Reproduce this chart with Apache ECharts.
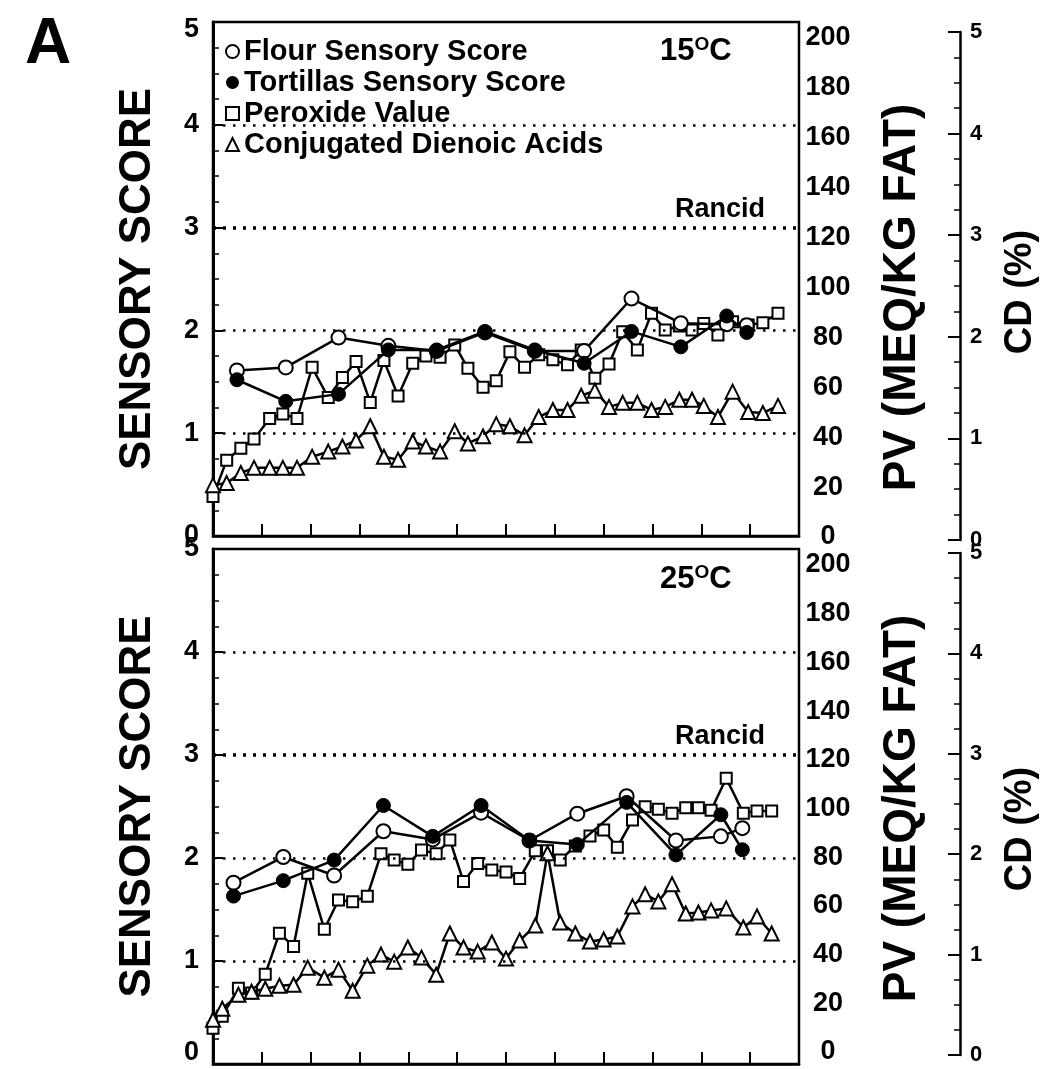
<!DOCTYPE html>
<html><head><meta charset="utf-8">
<script src="https://cdn.jsdelivr.net/npm/echarts@6/dist/echarts.min.js"></script>
<style>html,body{margin:0;padding:0;background:#fff}#c{width:1055px;height:1069px}</style>
</head><body><div id="c"></div>
<script>
// ---------- data ----------
const panelLetter = 'A';
const panelTemps = ['15', '25'];
const seriesNames = ['Flour Sensory Score', 'Tortillas Sensory Score', 'Peroxide Value', 'Conjugated Dienoic Acids'];
const rancidLabel = 'Rancid';
const rancidLevel = 3;
const sensoryTicks = [0, 1, 2, 3, 4, 5];
const pvTicks = [0, 20, 40, 60, 80, 100, 120, 140, 160, 180, 200];
const cdTicks = [0, 1, 2, 3, 4, 5];
const timeTicks = [0, 1, 2, 3, 4, 5, 6, 7, 8, 9, 10, 11, 12];

// 15 C panel
const sensX15 = [0.49, 1.49, 2.57, 3.59, 4.58, 5.57, 6.59, 7.60, 8.57, 9.58, 10.52, 10.93];
const flour15 = [1.61, 1.64, 1.93, 1.85, 1.80, 1.98, 1.80, 1.80, 2.31, 2.07, 2.06, 2.05];
const tort15  = [1.52, 1.31, 1.38, 1.81, 1.81, 1.99, 1.81, 1.68, 1.99, 1.84, 2.14, 1.98];
const labX15 = [0.00, 0.28, 0.57, 0.84, 1.16, 1.43, 1.72, 2.03, 2.36, 2.65, 2.93, 3.22, 3.50, 3.79,
  4.09, 4.36, 4.65, 4.95, 5.22, 5.53, 5.80, 6.08, 6.38, 6.67, 6.96, 7.26, 7.54, 7.82, 8.11, 8.39,
  8.69, 8.98, 9.26, 9.55, 9.81, 10.05, 10.34, 10.64, 10.96, 11.26, 11.57];
const pv15 = [16.2, 30.8, 35.6, 39.3, 47.5, 49.3, 47.5, 68.0, 55.9, 63.9, 70.3, 53.9, 70.7, 56.5,
  69.6, 72.5, 72.0, 77.0, 67.6, 60.0, 62.6, 74.2, 68.0, 73.0, 71.0, 69.0, 75.0, 63.6, 69.3, 82.3,
  75.0, 89.7, 83.0, 84.6, 83.0, 85.6, 81.0, 86.3, 85.0, 85.9, 89.7];
const cd15 = [0.54, 0.56, 0.66, 0.71, 0.71, 0.71, 0.71, 0.82, 0.87, 0.92, 0.98, 1.12, 0.82, 0.79,
  0.97, 0.92, 0.87, 1.07, 0.95, 1.02, 1.14, 1.12, 1.03, 1.21, 1.28, 1.28, 1.42, 1.47, 1.31, 1.35,
  1.35, 1.28, 1.31, 1.38, 1.38, 1.32, 1.21, 1.46, 1.26, 1.25, 1.32];

// 25 C panel
const sensX25 = [0.42, 1.44, 2.48, 3.49, 4.50, 5.49, 6.48, 7.46, 8.47, 9.48, 10.40, 10.84];
const flour25 = [1.76, 2.01, 1.83, 2.26, 2.18, 2.44, 2.17, 2.43, 2.60, 2.17, 2.21, 2.29];
const tort25  = [1.63, 1.78, 1.98, 2.51, 2.21, 2.51, 2.17, 2.13, 2.54, 2.03, 2.42, 2.08];
const labX25 = [0.00, 0.19, 0.52, 0.79, 1.07, 1.36, 1.65, 1.94, 2.28, 2.57, 2.86, 3.16, 3.44, 3.71,
  3.99, 4.27, 4.57, 4.85, 5.13, 5.42, 5.71, 6.00, 6.28, 6.60, 6.85, 7.11, 7.42, 7.72, 8.00, 8.28,
  8.59, 8.85, 9.12, 9.40, 9.68, 9.94, 10.20, 10.51, 10.86, 11.14, 11.44];
const pv25 = [9.8, 14.7, 26.2, 24.2, 31.9, 48.8, 43.3, 73.4, 50.4, 62.4, 61.7, 64.0, 81.4, 78.8,
  77.1, 83.0, 81.4, 87.1, 70.0, 77.4, 74.7, 73.9, 71.3, 82.6, 82.6, 78.8, 84.6, 88.7, 91.2, 84.1,
  95.3, 100.7, 99.7, 98.1, 100.3, 100.3, 99.3, 112.4, 98.1, 99.0, 99.0];
const cd25 = [0.35, 0.46, 0.60, 0.63, 0.66, 0.69, 0.70, 0.87, 0.77, 0.85, 0.64, 0.89, 1.00, 0.93,
  1.07, 0.97, 0.80, 1.21, 1.07, 1.03, 1.12, 0.96, 1.14, 1.29, 2.01, 1.32, 1.21, 1.13, 1.15, 1.18,
  1.48, 1.60, 1.53, 1.70, 1.41, 1.42, 1.44, 1.46, 1.27, 1.38, 1.21];

// ---------- chart ----------
const FONT = "'Liberation Sans', Arial, Helvetica, sans-serif";
const K = '#000';
const pair = (xs, ys) => xs.map((x, i) => [x, ys[i]]);
const tickStep = a => a[1] - a[0];
const panels = [
  {temp: panelTemps[0], sx: sensX15, flour: flour15, tort: tort15, lx: labX15, pv: pv15, cd: cd15,
   main: {top: 22, height: 514}, pvG: {top: 38, height: 499}, cdG: {top: 32, height: 508},
   pvPad: [0, 20, 0, 0], cdPad: [0, 12, 0, 0], tempTop: 30},
  {temp: panelTemps[1], sx: sensX25, flour: flour25, tort: tort25, lx: labX25, pv: pv25, cd: cd25,
   main: {top: 549, height: 515}, pvG: {top: 565, height: 487}, cdG: {top: 553, height: 502},
   pvPad: [0, 0, 0, 0], cdPad: [0, 50, 0, 0], tempTop: 558}
];

const grid = [], xAxis = [], yAxis = [], series = [], title = [];
title.push({text: panelLetter, left: 20, top: 8, textStyle: {fontSize: 64, fontWeight: 'bold', fontFamily: FONT, color: K}});

function labelShift(shiftVal, pad, size) {
  return {
    formatter: v => (v === shiftVal) ? '{z|' + v + '}' : String(v),
    rich: {z: {padding: pad, fontSize: size, fontWeight: 'bold', fontFamily: FONT, color: K}}
  };
}
// helper x axes for the independent right-hand scales: present but drawn invisibly
const helperX = g => ({gridIndex: g, type: 'value', min: timeTicks[0],
  max: timeTicks[timeTicks.length - 1], interval: tickStep(timeTicks),
  axisLine: {show: false, onZero: false}, axisTick: {show: false}, axisLabel: {show: false}, splitLine: {show: false}});
const nameStyle = (size, pad) => ({fontSize: size, fontWeight: 'bold', fontFamily: FONT, color: K, padding: pad});

panels.forEach((p, i) => {
  const bottom = i === 1;
  const gMain = grid.length;
  grid.push({left: 213, width: 586, top: p.main.top, height: p.main.height,
    show: true, borderColor: K, borderWidth: 2.5, backgroundColor: 'transparent'});
  const gPv = grid.length;
  grid.push({left: 213, width: 586, top: p.pvG.top, height: p.pvG.height});
  const gCd = grid.length;
  grid.push({left: 213, width: 586, top: p.cdG.top, height: p.cdG.height});

  xAxis.push({gridIndex: gMain, type: 'value', min: timeTicks[0], max: timeTicks[timeTicks.length - 1],
    interval: tickStep(timeTicks),
    axisLine: {show: true, onZero: false, lineStyle: {color: K, width: 2.5}},
    axisTick: {show: true, inside: true, length: 12, lineStyle: {color: K, width: 2}},
    axisLabel: {show: false}, splitLine: {show: false}});
  xAxis.push(helperX(gPv));
  xAxis.push(helperX(gCd));

  const ls = bottom ? labelShift(0, [0, 0, 22, 0], 27) : labelShift(5, [16, 0, 0, 0], 27);
  const ySens = yAxis.length;
  yAxis.push({gridIndex: gMain, type: 'value', position: 'left',
    min: sensoryTicks[0], max: sensoryTicks[sensoryTicks.length - 1], interval: tickStep(sensoryTicks),
    axisLine: {show: true, onZero: false, lineStyle: {color: K, width: 3}},
    axisTick: {show: true, inside: true, length: 10, lineStyle: {color: K, width: 2}},
    minorTick: {show: true, splitNumber: 4, length: 6, lineStyle: {color: K, width: 1.5}},
    axisLabel: {fontSize: 27, fontWeight: 'bold', fontFamily: FONT, color: K, margin: 14, formatter: ls.formatter, rich: ls.rich},
    splitLine: {show: false},
    name: 'SENSORY SCORE', nameLocation: 'middle', nameGap: 53,
    nameTextStyle: nameStyle(44, [0, 0, 0, 0])});
  const yPv = yAxis.length;
  yAxis.push({gridIndex: gPv, type: 'value', position: 'right',
    min: pvTicks[0], max: pvTicks[pvTicks.length - 1], interval: tickStep(pvTicks),
    axisLine: {show: false, onZero: false}, axisTick: {show: false}, splitLine: {show: false},
    axisLabel: {fontSize: 27, fontWeight: 'bold', fontFamily: FONT, color: K, margin: 29, align: 'center'},
    name: 'PV (MEQ/KG FAT)', nameLocation: 'middle', nameGap: 80,
    nameTextStyle: nameStyle(46, p.pvPad)});
  const yCd = yAxis.length;
  yAxis.push({gridIndex: gCd, type: 'value', position: 'right', offset: 161,
    min: cdTicks[0], max: cdTicks[cdTicks.length - 1], interval: tickStep(cdTicks),
    axisLine: {show: true, onZero: false, lineStyle: {color: K, width: 2.5}},
    axisTick: {show: true, inside: true, length: 12, lineStyle: {color: K, width: 2}},
    minorTick: {show: true, splitNumber: 4, length: 6, lineStyle: {color: K, width: 1.5}},
    splitLine: {show: false},
    axisLabel: {fontSize: 22, fontWeight: 'bold', fontFamily: FONT, color: K, margin: 10},
    name: 'CD (%)', nameLocation: 'middle', nameGap: 42,
    nameTextStyle: nameStyle(38, p.cdPad)});

  const base = {type: 'line', animation: false, silent: true,
    lineStyle: {color: K, width: 2.5}, emphasis: {disabled: true}};
  const openStyle = {color: '#fff', borderColor: K, borderWidth: 2};
  series.push(Object.assign({}, base, {name: seriesNames[2], xAxisIndex: gPv, yAxisIndex: yPv, data: pair(p.lx, p.pv),
    symbol: 'rect', symbolSize: 11, itemStyle: openStyle, z: 2}));
  series.push(Object.assign({}, base, {name: seriesNames[3], xAxisIndex: gCd, yAxisIndex: yCd, data: pair(p.lx, p.cd),
    symbol: 'triangle', symbolSize: 14, itemStyle: openStyle, z: 3}));
  const refLines = sensoryTicks.filter(v => v > sensoryTicks[0] && v < sensoryTicks[sensoryTicks.length - 1]);
  series.push(Object.assign({}, base, {name: seriesNames[0], xAxisIndex: gMain, yAxisIndex: ySens, data: pair(p.sx, p.flour),
    symbol: 'circle', symbolSize: 14, itemStyle: openStyle, z: 4,
    markLine: {symbol: 'none', silent: true, animation: false,
      data: refLines.map(v => v === rancidLevel ? {
        yAxis: v, lineStyle: {type: [3, 7], width: 3.5, color: K},
        label: {show: true, position: 'insideEndTop', formatter: rancidLabel, fontSize: 27, fontWeight: 'bold',
          fontFamily: FONT, color: K, distance: [34, 5]}
      } : {yAxis: v, lineStyle: {type: [2.5, 7.5], width: 2.5, color: K}, label: {show: false}})
    }}));
  series.push(Object.assign({}, base, {name: seriesNames[1], xAxisIndex: gMain, yAxisIndex: ySens, data: pair(p.sx, p.tort),
    symbol: 'circle', symbolSize: 14, itemStyle: {color: K, borderColor: K, borderWidth: 1}, z: 5}));

  title.push({text: '{n|' + p.temp + '}{s|O}{n|C}', left: 655, top: p.tempTop,
    textStyle: {rich: {
      n: {fontSize: 31, fontWeight: 'bold', fontFamily: FONT, color: K, lineHeight: 32, verticalAlign: 'bottom'},
      s: {fontSize: 19, fontWeight: 'bold', fontFamily: FONT, color: K, lineHeight: 32, verticalAlign: 'top'}}}});
});

const open = {color: '#fff', borderColor: K, borderWidth: 2};
const option = {
  backgroundColor: '#fff',
  animation: false,
  title: title,
  grid: grid, xAxis: xAxis, yAxis: yAxis, series: series,
  legend: {orient: 'vertical', left: 220, top: 32, itemGap: 2, itemWidth: 13, itemHeight: 13,
    selectedMode: false,
    textStyle: {fontSize: 29, fontWeight: 'bold', fontFamily: FONT, color: K},
    data: [
      {name: seriesNames[0], icon: 'circle', itemStyle: open},
      {name: seriesNames[1], icon: 'circle', itemStyle: {color: K, borderColor: K, borderWidth: 0}},
      {name: seriesNames[2], icon: 'rect', itemStyle: open},
      {name: seriesNames[3], icon: 'triangle', itemStyle: open}
    ]}
};
const chart = echarts.init(document.getElementById('c'), null, {renderer: 'canvas'});
chart.setOption(option);
</script></body></html>
